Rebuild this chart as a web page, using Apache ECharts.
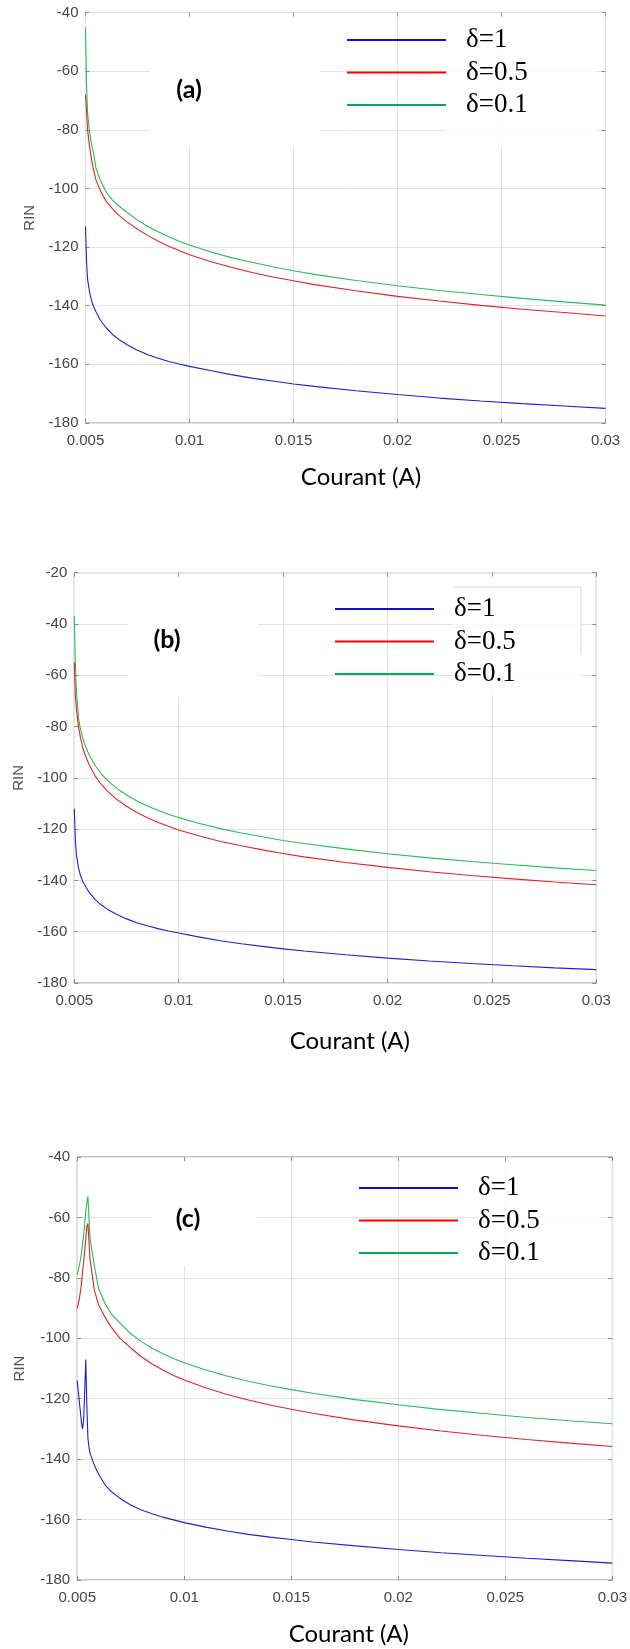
<!DOCTYPE html>
<html>
<head>
<meta charset="utf-8">
<style>
html,body{margin:0;padding:0;background:#fff;}
#chart{width:630px;height:1649px;}
</style>
<script src="https://cdn.jsdelivr.net/npm/echarts/dist/echarts.min.js"></script>
</head>
<body>
<div id="chart"></div>
<script>
// ---------- DATA ----------
const seriesNames = ['δ=1', 'δ=0.5', 'δ=0.1'];
const xTickLabels = ['0.005', '0.01', '0.015', '0.02', '0.025', '0.03'];
const panelLabels = ['(a)', '(b)', '(c)'];

const currentAB = [0.005, 0.00505, 0.0051, 0.0052, 0.0053, 0.0054, 0.0055, 0.0057, 0.006, 0.0063, 0.0066, 0.007, 0.0075, 0.008, 0.0085, 0.009, 0.0095, 0.01, 0.011, 0.012, 0.013, 0.014, 0.015, 0.016, 0.018, 0.02, 0.022, 0.024, 0.026, 0.028, 0.03];

const rinA_d1  = [-113, -125, -131, -135.5, -138.5, -140.5, -142, -144.8, -147.6, -149.8, -151.5, -153.3, -155.2, -156.7, -157.9, -159, -159.9, -160.7, -162.1, -163.5, -164.7, -165.7, -166.7, -167.5, -169, -170.3, -171.5, -172.5, -173.4, -174.2, -175];
const rinA_d05 = [-68, -74, -80, -86, -90.5, -94, -97, -100.5, -104.5, -107, -109.2, -111.4, -113.9, -116.1, -118, -119.7, -121.2, -122.6, -124.9, -126.9, -128.7, -130.2, -131.5, -132.8, -134.9, -136.8, -138.4, -139.9, -141.2, -142.3, -143.5];
const rinA_d01 = [-45, -64, -74.5, -81, -85.3, -88.5, -93, -97, -101.3, -104, -106, -108.2, -110.8, -113, -114.8, -116.5, -118, -119.3, -121.6, -123.6, -125.2, -126.7, -128.1, -129.3, -131.4, -133.2, -134.8, -136.2, -137.5, -138.7, -139.8];

const rinB_d1  = [-112, -124, -130, -135, -138.2, -140.3, -141.8, -144.5, -147.5, -149.6, -151.3, -153.1, -155, -156.5, -157.7, -158.8, -159.7, -160.5, -162.1, -163.5, -164.7, -165.7, -166.7, -167.5, -169, -170.3, -171.4, -172.4, -173.3, -174.1, -174.8];
const rinB_d05 = [-55, -68, -73, -80, -84.5, -88, -90.6, -94.7, -99.3, -102.6, -105.3, -108.2, -111.1, -113.5, -115.6, -117.3, -118.9, -120.3, -122.7, -124.8, -126.5, -128.1, -129.5, -130.8, -133, -134.9, -136.6, -138.1, -139.4, -140.6, -141.7];
const rinB_d01 = [-37, -55, -66, -76.7, -81.1, -84.3, -86.9, -90.9, -95.2, -98.5, -101.1, -103.9, -106.7, -109, -111, -112.6, -114.2, -115.5, -117.8, -119.8, -121.5, -123, -124.4, -125.6, -127.7, -129.6, -131.2, -132.6, -133.9, -135.1, -136.1];

const currentC = [0.005, 0.0051, 0.0052, 0.00525, 0.0053, 0.00535, 0.0054, 0.00545, 0.0055, 0.00555, 0.0056, 0.0058, 0.006, 0.0063, 0.0066, 0.007, 0.0075, 0.008, 0.0085, 0.009, 0.0095, 0.01, 0.011, 0.012, 0.013, 0.014, 0.015, 0.016, 0.018, 0.02, 0.022, 0.024, 0.026, 0.028, 0.03];
const rinC_d1  = [-114, -121, -128, -130, -127, -118, -107, -122, -133, -136, -138, -142, -145, -148.5, -150.8, -153, -155.2, -156.8, -158.1, -159.2, -160.1, -161, -162.5, -163.8, -164.9, -165.8, -166.6, -167.4, -168.7, -169.9, -171, -171.9, -172.8, -173.6, -174.4];
const rinC_d05 = [-90, -87, -82, -78, -75, -71, -67, -63, -62, -68, -74, -84, -89, -93, -96.5, -100, -103.2, -106.1, -108.5, -110.5, -112.3, -113.8, -116.4, -118.6, -120.4, -122.1, -123.5, -124.8, -127.1, -129, -130.7, -132.2, -133.5, -134.7, -135.8];
const rinC_d01 = [-79, -76, -72, -69, -66, -62, -58, -55, -53, -60, -67, -76, -83.5, -88.5, -92, -95, -98.5, -101.1, -103.3, -105.1, -106.7, -108.1, -110.5, -112.5, -114.2, -115.7, -117, -118.2, -120.3, -122, -123.6, -124.9, -126.2, -127.3, -128.3];

const yMaxes = [-40, -20, -40];
const yMin = -180;

// ---------- LAYOUT / STYLE ----------
const panels = [
  { x: currentAB, ys: [rinA_d1, rinA_d05, rinA_d01], grid: {left: 85.5, top: 12.5, width: 520, height: 410.5},
    xNameGap: 42, xNameShift: 31, yNameGap: 48, legend: {left: 347, top: 25}, label: [189, 90],
    covers: [[150, 17, 170, 130, 1], [446, 17, 150, 130, 0.85]] },
  { x: currentAB, ys: [rinB_d1, rinB_d05, rinB_d01], grid: {left: 74.3, top: 572.7, width: 522, height: 410.3},
    xNameGap: 46, xNameShift: 29, yNameGap: 47, legend: {left: 335, top: 594}, label: [167, 640],
    covers: [[128, 577, 130, 120, 1], [453, 577, 128, 120, 0.85]] },
  { x: currentC, ys: [rinC_d1, rinC_d05, rinC_d01], grid: {left: 77.2, top: 1157, width: 536, height: 423},
    xNameGap: 42, xNameShift: 8, yNameGap: 50, legend: {left: 359, top: 1173}, label: [188, 1219],
    covers: [[152, 1162, 106, 104, 1], [477, 1162, 126, 104, 0.85]] }
];
const curveColors = ['#1f1fd6', '#e52222', '#22bf55'];
const legendColors = ['#1010cc', '#ff0000', '#00b050'];
const tickFont = 'Liberation Sans, Arial, sans-serif';
const borderColor = '#8a8a8a';
const gridColor = '#e4e4e4';

const option = {
  animation: false,
  backgroundColor: '#ffffff',
  grid: panels.map(p => Object.assign({show: true, borderColor: borderColor, borderWidth: 1, backgroundColor: 'transparent'}, p.grid)),
  xAxis: [],
  yAxis: [],
  series: [],
  legend: [],
  graphic: []
};

panels.forEach((p, i) => {
  option.xAxis.push({
    type: 'value', gridIndex: i, position: 'bottom', min: 0.005, max: 0.03, interval: 0.005,
    axisLine: {show: false},
    axisTick: {show: true, inside: true, length: 4, lineStyle: {color: borderColor}},
    axisLabel: {margin: 10, fontSize: 15, color: '#454545', fontFamily: tickFont,
      formatter: v => xTickLabels[Math.round((v - 0.005) / 0.005)]},
    splitLine: {show: true, lineStyle: {color: gridColor, width: 1}},
    name: 'Courant (A)', nameLocation: 'middle', nameGap: p.xNameGap,
    nameTextStyle: {fontSize: 24, color: '#000', fontFamily: 'Lato, Open Sans, sans-serif', padding: [0, 0, 0, p.xNameShift]}
  });
  option.yAxis.push({
    type: 'value', gridIndex: i, position: 'left', min: yMin, max: yMaxes[i], interval: 20,
    axisLine: {show: false},
    axisTick: {show: true, inside: true, length: 4, lineStyle: {color: borderColor}},
    axisLabel: {margin: 7, fontSize: 15, color: '#454545', fontFamily: tickFont},
    splitLine: {show: true, lineStyle: {color: gridColor, width: 1}},
    name: 'RIN', nameLocation: 'middle', nameGap: p.yNameGap,
    nameTextStyle: {fontSize: 15, color: '#505050', fontFamily: tickFont}
  });
  p.ys.forEach((ys, k) => {
    option.series.push({
      type: 'line', name: seriesNames[k], xAxisIndex: i, yAxisIndex: i,
      data: p.x.map((x, j) => [x, ys[j]]),
      showSymbol: false, symbol: 'none', smooth: false,
      lineStyle: {color: curveColors[k], width: 1.1},
      itemStyle: {color: curveColors[k]},
      z: 5 - k
    });
  });
  option.legend.push({
    data: seriesNames.map((n, k) => ({name: n, itemStyle: {color: legendColors[k]}})),
    orient: 'vertical', left: p.legend.left, top: p.legend.top, padding: 0,
    icon: 'rect', itemWidth: 99, itemHeight: 2, itemGap: 2.5, selectedMode: false,
    textStyle: {fontFamily: 'Liberation Serif, Times New Roman, serif', fontSize: 27, color: '#000', lineHeight: 30, padding: [0, 0, 0, 15]}
  });
  p.covers.forEach(c => {
    option.graphic.push({
      type: 'rect', z: 1, silent: true,
      shape: {x: c[0], y: c[1], width: c[2], height: c[3]},
      style: {fill: '#ffffff', opacity: c[4]}
    });
  });
  option.graphic.push({
    type: 'text', z: 10, silent: true, x: p.label[0], y: p.label[1],
    style: {text: panelLabels[i], font: 'bold 25px Lato, Open Sans, sans-serif', fill: '#000', align: 'center', verticalAlign: 'middle'}
  });
});

// mirrored top / right axes (ticks only, box style)
panels.forEach((p, i) => {
  option.xAxis.push({
    type: 'value', gridIndex: i, position: 'top', min: 0.005, max: 0.03, interval: 0.005,
    axisLine: {show: false}, axisLabel: {show: false}, splitLine: {show: false},
    axisTick: {show: true, inside: true, length: 4, lineStyle: {color: borderColor}}
  });
  option.yAxis.push({
    type: 'value', gridIndex: i, position: 'right', min: yMin, max: yMaxes[i], interval: 20,
    axisLine: {show: false}, axisLabel: {show: false}, splitLine: {show: false},
    axisTick: {show: true, inside: true, length: 4, lineStyle: {color: borderColor}}
  });
});

// faint leftover legend-box outline in panel (b)
option.graphic.push({
  type: 'polyline', z: 1, silent: true,
  shape: {points: [[453, 587], [581, 587], [581, 655]]},
  style: {stroke: '#d4d4d4', lineWidth: 1, fill: null}
});

const chart = echarts.init(document.getElementById('chart'), null, {renderer: 'canvas', width: 630, height: 1649});
chart.setOption(option);
</script>
</body>
</html>
